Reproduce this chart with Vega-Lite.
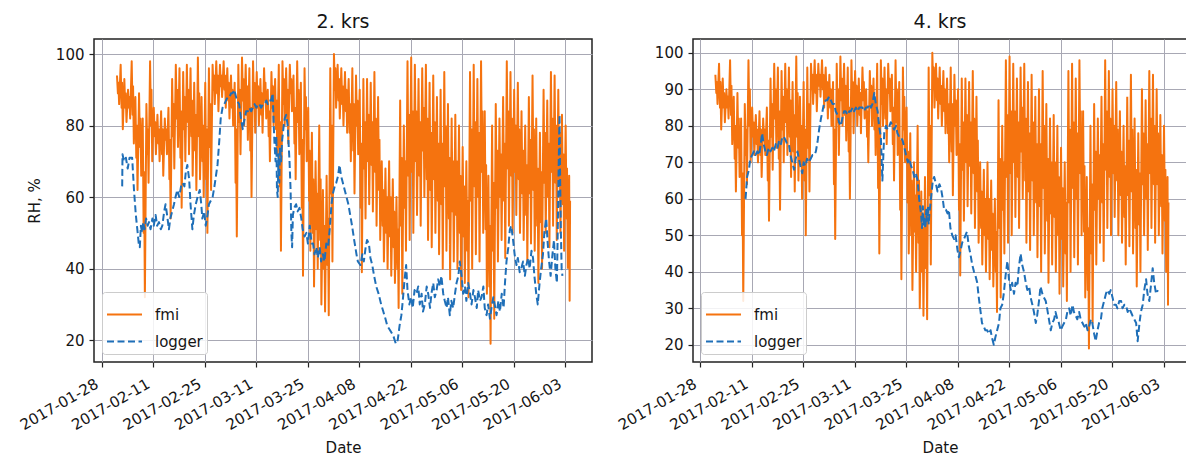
{
  "$schema": "https://vega.github.io/schema/vega-lite/v6.json",
  "background": "white",
  "padding": {"left": 16, "top": 12, "right": 0, "bottom": 0},
  "datasets": {
    "fmi": [
      {"t":"2017-02-01T02:00","v":94},{"t":"2017-02-01T08:00","v":89},{"t":"2017-02-01T11:00","v":92},{"t":"2017-02-01T16:00","v":86},
      {"t":"2017-02-02T02:00","v":97},{"t":"2017-02-02T08:00","v":85},{"t":"2017-02-02T11:00","v":92},{"t":"2017-02-02T16:00","v":79},
      {"t":"2017-02-03T02:00","v":93},{"t":"2017-02-03T08:00","v":85},{"t":"2017-02-03T11:00","v":89},{"t":"2017-02-03T16:00","v":81},
      {"t":"2017-02-04T02:00","v":90},{"t":"2017-02-04T08:00","v":85},{"t":"2017-02-04T11:00","v":88},{"t":"2017-02-04T16:00","v":82},
      {"t":"2017-02-05T02:00","v":98},{"t":"2017-02-05T08:00","v":83},{"t":"2017-02-05T11:00","v":91},{"t":"2017-02-05T16:00","v":75},
      {"t":"2017-02-06T02:00","v":88},{"t":"2017-02-06T08:00","v":71},{"t":"2017-02-06T11:00","v":80},{"t":"2017-02-06T16:00","v":62},
      {"t":"2017-02-07T02:00","v":89},{"t":"2017-02-07T08:00","v":74},{"t":"2017-02-07T11:00","v":82},{"t":"2017-02-07T16:00","v":66},
      {"t":"2017-02-08T02:00","v":82},{"t":"2017-02-08T08:00","v":50},{"t":"2017-02-08T11:00","v":67},{"t":"2017-02-08T16:00","v":32},
      {"t":"2017-02-09T02:00","v":86},{"t":"2017-02-09T08:00","v":72},{"t":"2017-02-09T11:00","v":79},{"t":"2017-02-09T16:00","v":64},
      {"t":"2017-02-10T02:00","v":98},{"t":"2017-02-10T08:00","v":80},{"t":"2017-02-10T11:00","v":90},{"t":"2017-02-10T16:00","v":70},
      {"t":"2017-02-11T02:00","v":85},{"t":"2017-02-11T08:00","v":77},{"t":"2017-02-11T11:00","v":81},{"t":"2017-02-11T16:00","v":72},
      {"t":"2017-02-12T02:00","v":83},{"t":"2017-02-12T08:00","v":75},{"t":"2017-02-12T11:00","v":79},{"t":"2017-02-12T16:00","v":70},
      {"t":"2017-02-13T02:00","v":84},{"t":"2017-02-13T08:00","v":72},{"t":"2017-02-13T11:00","v":79},{"t":"2017-02-13T16:00","v":66},
      {"t":"2017-02-14T02:00","v":82},{"t":"2017-02-14T08:00","v":76},{"t":"2017-02-14T11:00","v":79},{"t":"2017-02-14T16:00","v":72},
      {"t":"2017-02-15T02:00","v":85},{"t":"2017-02-15T08:00","v":65},{"t":"2017-02-15T11:00","v":76},{"t":"2017-02-15T16:00","v":54},
      {"t":"2017-02-16T02:00","v":93},{"t":"2017-02-16T08:00","v":77},{"t":"2017-02-16T11:00","v":86},{"t":"2017-02-16T16:00","v":68},
      {"t":"2017-02-17T02:00","v":97},{"t":"2017-02-17T08:00","v":82},{"t":"2017-02-17T11:00","v":90},{"t":"2017-02-17T16:00","v":74},
      {"t":"2017-02-18T02:00","v":96},{"t":"2017-02-18T08:00","v":71},{"t":"2017-02-18T11:00","v":84},{"t":"2017-02-18T16:00","v":57},
      {"t":"2017-02-19T02:00","v":95},{"t":"2017-02-19T08:00","v":79},{"t":"2017-02-19T11:00","v":88},{"t":"2017-02-19T16:00","v":70},
      {"t":"2017-02-20T02:00","v":97},{"t":"2017-02-20T08:00","v":81},{"t":"2017-02-20T11:00","v":90},{"t":"2017-02-20T16:00","v":72},
      {"t":"2017-02-21T02:00","v":96},{"t":"2017-02-21T08:00","v":77},{"t":"2017-02-21T11:00","v":87},{"t":"2017-02-21T16:00","v":66},
      {"t":"2017-02-22T02:00","v":92},{"t":"2017-02-22T08:00","v":73},{"t":"2017-02-22T11:00","v":83},{"t":"2017-02-22T16:00","v":62},
      {"t":"2017-02-23T02:00","v":99},{"t":"2017-02-23T08:00","v":77},{"t":"2017-02-23T11:00","v":89},{"t":"2017-02-23T16:00","v":65},
      {"t":"2017-02-24T02:00","v":88},{"t":"2017-02-24T08:00","v":70},{"t":"2017-02-24T11:00","v":80},{"t":"2017-02-24T16:00","v":60},
      {"t":"2017-02-25T02:00","v":92},{"t":"2017-02-25T08:00","v":65},{"t":"2017-02-25T11:00","v":79},{"t":"2017-02-25T16:00","v":50},
      {"t":"2017-02-26T02:00","v":96},{"t":"2017-02-26T08:00","v":74},{"t":"2017-02-26T11:00","v":86},{"t":"2017-02-26T16:00","v":62},
      {"t":"2017-02-27T02:00","v":97},{"t":"2017-02-27T08:00","v":90},{"t":"2017-02-27T11:00","v":94},{"t":"2017-02-27T16:00","v":86},
      {"t":"2017-02-28T02:00","v":98},{"t":"2017-02-28T08:00","v":89},{"t":"2017-02-28T11:00","v":94},{"t":"2017-02-28T16:00","v":84},
      {"t":"2017-03-01T02:00","v":97},{"t":"2017-03-01T08:00","v":91},{"t":"2017-03-01T11:00","v":94},{"t":"2017-03-01T16:00","v":88},
      {"t":"2017-03-02T02:00","v":98},{"t":"2017-03-02T08:00","v":90},{"t":"2017-03-02T11:00","v":94},{"t":"2017-03-02T16:00","v":85},
      {"t":"2017-03-03T02:00","v":96},{"t":"2017-03-03T08:00","v":87},{"t":"2017-03-03T11:00","v":92},{"t":"2017-03-03T16:00","v":82},
      {"t":"2017-03-04T02:00","v":94},{"t":"2017-03-04T08:00","v":85},{"t":"2017-03-04T11:00","v":90},{"t":"2017-03-04T16:00","v":80},
      {"t":"2017-03-05T02:00","v":92},{"t":"2017-03-05T08:00","v":64},{"t":"2017-03-05T11:00","v":79},{"t":"2017-03-05T16:00","v":49},
      {"t":"2017-03-06T02:00","v":97},{"t":"2017-03-06T08:00","v":81},{"t":"2017-03-06T11:00","v":90},{"t":"2017-03-06T16:00","v":72},
      {"t":"2017-03-07T02:00","v":99},{"t":"2017-03-07T08:00","v":87},{"t":"2017-03-07T11:00","v":93},{"t":"2017-03-07T16:00","v":80},
      {"t":"2017-03-08T02:00","v":97},{"t":"2017-03-08T08:00","v":83},{"t":"2017-03-08T11:00","v":91},{"t":"2017-03-08T16:00","v":76},
      {"t":"2017-03-09T02:00","v":96},{"t":"2017-03-09T08:00","v":73},{"t":"2017-03-09T11:00","v":85},{"t":"2017-03-09T16:00","v":60},
      {"t":"2017-03-10T02:00","v":98},{"t":"2017-03-10T08:00","v":85},{"t":"2017-03-10T11:00","v":92},{"t":"2017-03-10T16:00","v":78},
      {"t":"2017-03-11T02:00","v":95},{"t":"2017-03-11T08:00","v":85},{"t":"2017-03-11T11:00","v":91},{"t":"2017-03-11T16:00","v":80},
      {"t":"2017-03-12T02:00","v":93},{"t":"2017-03-12T08:00","v":83},{"t":"2017-03-12T11:00","v":89},{"t":"2017-03-12T16:00","v":78},
      {"t":"2017-03-13T02:00","v":96},{"t":"2017-03-13T08:00","v":87},{"t":"2017-03-13T11:00","v":92},{"t":"2017-03-13T16:00","v":82},
      {"t":"2017-03-14T02:00","v":90},{"t":"2017-03-14T08:00","v":77},{"t":"2017-03-14T11:00","v":84},{"t":"2017-03-14T16:00","v":70},
      {"t":"2017-03-15T02:00","v":95},{"t":"2017-03-15T08:00","v":85},{"t":"2017-03-15T11:00","v":91},{"t":"2017-03-15T16:00","v":80},
      {"t":"2017-03-16T02:00","v":93},{"t":"2017-03-16T08:00","v":79},{"t":"2017-03-16T11:00","v":87},{"t":"2017-03-16T16:00","v":72},
      {"t":"2017-03-17T02:00","v":97},{"t":"2017-03-17T08:00","v":63},{"t":"2017-03-17T11:00","v":81},{"t":"2017-03-17T16:00","v":45},
      {"t":"2017-03-18T02:00","v":98},{"t":"2017-03-18T08:00","v":86},{"t":"2017-03-18T11:00","v":93},{"t":"2017-03-18T16:00","v":80},
      {"t":"2017-03-19T02:00","v":96},{"t":"2017-03-19T08:00","v":82},{"t":"2017-03-19T11:00","v":90},{"t":"2017-03-19T16:00","v":75},
      {"t":"2017-03-20T02:00","v":97},{"t":"2017-03-20T08:00","v":89},{"t":"2017-03-20T11:00","v":93},{"t":"2017-03-20T16:00","v":84},
      {"t":"2017-03-21T02:00","v":94},{"t":"2017-03-21T08:00","v":75},{"t":"2017-03-21T11:00","v":85},{"t":"2017-03-21T16:00","v":65},
      {"t":"2017-03-22T02:00","v":98},{"t":"2017-03-22T08:00","v":81},{"t":"2017-03-22T11:00","v":90},{"t":"2017-03-22T16:00","v":72},
      {"t":"2017-03-23T02:00","v":92},{"t":"2017-03-23T08:00","v":57},{"t":"2017-03-23T11:00","v":76},{"t":"2017-03-23T16:00","v":38},
      {"t":"2017-03-24T02:00","v":96},{"t":"2017-03-24T08:00","v":79},{"t":"2017-03-24T11:00","v":88},{"t":"2017-03-24T16:00","v":70},
      {"t":"2017-03-25T02:00","v":85},{"t":"2017-03-25T08:00","v":59},{"t":"2017-03-25T11:00","v":73},{"t":"2017-03-25T16:00","v":45},
      {"t":"2017-03-26T02:00","v":78},{"t":"2017-03-26T08:00","v":50},{"t":"2017-03-26T11:00","v":65},{"t":"2017-03-26T16:00","v":35},
      {"t":"2017-03-27T02:00","v":70},{"t":"2017-03-27T08:00","v":51},{"t":"2017-03-27T11:00","v":61},{"t":"2017-03-27T16:00","v":40},
      {"t":"2017-03-28T02:00","v":80},{"t":"2017-03-28T08:00","v":48},{"t":"2017-03-28T11:00","v":65},{"t":"2017-03-28T16:00","v":30},
      {"t":"2017-03-29T02:00","v":62},{"t":"2017-03-29T08:00","v":40},{"t":"2017-03-29T11:00","v":52},{"t":"2017-03-29T16:00","v":28},
      {"t":"2017-03-30T02:00","v":66},{"t":"2017-03-30T08:00","v":41},{"t":"2017-03-30T11:00","v":54},{"t":"2017-03-30T16:00","v":27},
      {"t":"2017-03-31T02:00","v":96},{"t":"2017-03-31T08:00","v":61},{"t":"2017-03-31T11:00","v":80},{"t":"2017-03-31T16:00","v":42},
      {"t":"2017-04-01T02:00","v":100},{"t":"2017-04-01T08:00","v":90},{"t":"2017-04-01T11:00","v":96},{"t":"2017-04-01T16:00","v":85},
      {"t":"2017-04-02T02:00","v":97},{"t":"2017-04-02T08:00","v":87},{"t":"2017-04-02T11:00","v":93},{"t":"2017-04-02T16:00","v":82},
      {"t":"2017-04-03T02:00","v":96},{"t":"2017-04-03T08:00","v":86},{"t":"2017-04-03T11:00","v":91},{"t":"2017-04-03T16:00","v":80},
      {"t":"2017-04-04T02:00","v":95},{"t":"2017-04-04T08:00","v":84},{"t":"2017-04-04T11:00","v":90},{"t":"2017-04-04T16:00","v":78},
      {"t":"2017-04-05T02:00","v":93},{"t":"2017-04-05T08:00","v":78},{"t":"2017-04-05T11:00","v":86},{"t":"2017-04-05T16:00","v":70},
      {"t":"2017-04-06T02:00","v":96},{"t":"2017-04-06T08:00","v":73},{"t":"2017-04-06T11:00","v":86},{"t":"2017-04-06T16:00","v":61},
      {"t":"2017-04-07T02:00","v":94},{"t":"2017-04-07T08:00","v":80},{"t":"2017-04-07T11:00","v":87},{"t":"2017-04-07T16:00","v":72},
      {"t":"2017-04-08T02:00","v":90},{"t":"2017-04-08T08:00","v":57},{"t":"2017-04-08T11:00","v":75},{"t":"2017-04-08T16:00","v":39},
      {"t":"2017-04-09T02:00","v":93},{"t":"2017-04-09T08:00","v":68},{"t":"2017-04-09T11:00","v":81},{"t":"2017-04-09T16:00","v":54},
      {"t":"2017-04-10T02:00","v":93},{"t":"2017-04-10T08:00","v":70},{"t":"2017-04-10T11:00","v":83},{"t":"2017-04-10T16:00","v":58},
      {"t":"2017-04-11T02:00","v":92},{"t":"2017-04-11T08:00","v":69},{"t":"2017-04-11T11:00","v":81},{"t":"2017-04-11T16:00","v":56},
      {"t":"2017-04-12T02:00","v":95},{"t":"2017-04-12T08:00","v":67},{"t":"2017-04-12T11:00","v":82},{"t":"2017-04-12T16:00","v":52},
      {"t":"2017-04-13T02:00","v":88},{"t":"2017-04-13T08:00","v":62},{"t":"2017-04-13T11:00","v":76},{"t":"2017-04-13T16:00","v":48},
      {"t":"2017-04-14T02:00","v":70},{"t":"2017-04-14T08:00","v":52},{"t":"2017-04-14T11:00","v":62},{"t":"2017-04-14T16:00","v":42},
      {"t":"2017-04-15T02:00","v":68},{"t":"2017-04-15T08:00","v":50},{"t":"2017-04-15T11:00","v":60},{"t":"2017-04-15T16:00","v":40},
      {"t":"2017-04-16T02:00","v":70},{"t":"2017-04-16T08:00","v":49},{"t":"2017-04-16T11:00","v":60},{"t":"2017-04-16T16:00","v":38},
      {"t":"2017-04-17T02:00","v":65},{"t":"2017-04-17T08:00","v":46},{"t":"2017-04-17T11:00","v":56},{"t":"2017-04-17T16:00","v":36},
      {"t":"2017-04-18T02:00","v":60},{"t":"2017-04-18T08:00","v":40},{"t":"2017-04-18T11:00","v":51},{"t":"2017-04-18T16:00","v":29},
      {"t":"2017-04-19T02:00","v":87},{"t":"2017-04-19T08:00","v":52},{"t":"2017-04-19T11:00","v":71},{"t":"2017-04-19T16:00","v":33},
      {"t":"2017-04-20T02:00","v":80},{"t":"2017-04-20T08:00","v":57},{"t":"2017-04-20T11:00","v":70},{"t":"2017-04-20T16:00","v":45},
      {"t":"2017-04-21T02:00","v":98},{"t":"2017-04-21T08:00","v":66},{"t":"2017-04-21T11:00","v":83},{"t":"2017-04-21T16:00","v":48},
      {"t":"2017-04-22T02:00","v":99},{"t":"2017-04-22T08:00","v":67},{"t":"2017-04-22T11:00","v":84},{"t":"2017-04-22T16:00","v":50},
      {"t":"2017-04-23T02:00","v":97},{"t":"2017-04-23T08:00","v":70},{"t":"2017-04-23T11:00","v":84},{"t":"2017-04-23T16:00","v":55},
      {"t":"2017-04-24T02:00","v":93},{"t":"2017-04-24T08:00","v":66},{"t":"2017-04-24T11:00","v":81},{"t":"2017-04-24T16:00","v":52},
      {"t":"2017-04-25T02:00","v":96},{"t":"2017-04-25T08:00","v":73},{"t":"2017-04-25T11:00","v":85},{"t":"2017-04-25T16:00","v":60},
      {"t":"2017-04-26T02:00","v":97},{"t":"2017-04-26T08:00","v":65},{"t":"2017-04-26T11:00","v":82},{"t":"2017-04-26T16:00","v":48},
      {"t":"2017-04-27T02:00","v":92},{"t":"2017-04-27T08:00","v":62},{"t":"2017-04-27T11:00","v":78},{"t":"2017-04-27T16:00","v":46},
      {"t":"2017-04-28T02:00","v":94},{"t":"2017-04-28T08:00","v":65},{"t":"2017-04-28T11:00","v":81},{"t":"2017-04-28T16:00","v":50},
      {"t":"2017-04-29T02:00","v":88},{"t":"2017-04-29T08:00","v":59},{"t":"2017-04-29T11:00","v":75},{"t":"2017-04-29T16:00","v":44},
      {"t":"2017-04-30T02:00","v":90},{"t":"2017-04-30T08:00","v":58},{"t":"2017-04-30T11:00","v":75},{"t":"2017-04-30T16:00","v":40},
      {"t":"2017-05-01T02:00","v":95},{"t":"2017-05-01T08:00","v":63},{"t":"2017-05-01T11:00","v":80},{"t":"2017-05-01T16:00","v":45},
      {"t":"2017-05-02T02:00","v":86},{"t":"2017-05-02T08:00","v":54},{"t":"2017-05-02T11:00","v":71},{"t":"2017-05-02T16:00","v":37},
      {"t":"2017-05-03T02:00","v":82},{"t":"2017-05-03T08:00","v":56},{"t":"2017-05-03T11:00","v":70},{"t":"2017-05-03T16:00","v":42},
      {"t":"2017-05-04T02:00","v":83},{"t":"2017-05-04T08:00","v":55},{"t":"2017-05-04T11:00","v":70},{"t":"2017-05-04T16:00","v":40},
      {"t":"2017-05-05T02:00","v":80},{"t":"2017-05-05T08:00","v":50},{"t":"2017-05-05T11:00","v":66},{"t":"2017-05-05T16:00","v":34},
      {"t":"2017-05-06T02:00","v":74},{"t":"2017-05-06T08:00","v":49},{"t":"2017-05-06T11:00","v":63},{"t":"2017-05-06T16:00","v":36},
      {"t":"2017-05-07T02:00","v":70},{"t":"2017-05-07T08:00","v":45},{"t":"2017-05-07T11:00","v":59},{"t":"2017-05-07T16:00","v":32},
      {"t":"2017-05-08T02:00","v":95},{"t":"2017-05-08T08:00","v":59},{"t":"2017-05-08T11:00","v":79},{"t":"2017-05-08T16:00","v":40},
      {"t":"2017-05-09T02:00","v":97},{"t":"2017-05-09T08:00","v":63},{"t":"2017-05-09T11:00","v":81},{"t":"2017-05-09T16:00","v":44},
      {"t":"2017-05-10T02:00","v":93},{"t":"2017-05-10T08:00","v":60},{"t":"2017-05-10T11:00","v":78},{"t":"2017-05-10T16:00","v":42},
      {"t":"2017-05-11T02:00","v":98},{"t":"2017-05-11T08:00","v":67},{"t":"2017-05-11T11:00","v":84},{"t":"2017-05-11T16:00","v":50},
      {"t":"2017-05-12T02:00","v":84},{"t":"2017-05-12T08:00","v":51},{"t":"2017-05-12T11:00","v":69},{"t":"2017-05-12T16:00","v":33},
      {"t":"2017-05-13T02:00","v":66},{"t":"2017-05-13T08:00","v":35},{"t":"2017-05-13T11:00","v":52},{"t":"2017-05-13T16:00","v":19},
      {"t":"2017-05-14T02:00","v":80},{"t":"2017-05-14T08:00","v":45},{"t":"2017-05-14T11:00","v":64},{"t":"2017-05-14T16:00","v":26},
      {"t":"2017-05-15T02:00","v":86},{"t":"2017-05-15T08:00","v":57},{"t":"2017-05-15T11:00","v":73},{"t":"2017-05-15T16:00","v":42},
      {"t":"2017-05-16T02:00","v":82},{"t":"2017-05-16T08:00","v":60},{"t":"2017-05-16T11:00","v":72},{"t":"2017-05-16T16:00","v":48},
      {"t":"2017-05-17T02:00","v":88},{"t":"2017-05-17T08:00","v":59},{"t":"2017-05-17T11:00","v":75},{"t":"2017-05-17T16:00","v":43},
      {"t":"2017-05-18T02:00","v":98},{"t":"2017-05-18T08:00","v":68},{"t":"2017-05-18T11:00","v":84},{"t":"2017-05-18T16:00","v":52},
      {"t":"2017-05-19T02:00","v":95},{"t":"2017-05-19T08:00","v":66},{"t":"2017-05-19T11:00","v":82},{"t":"2017-05-19T16:00","v":50},
      {"t":"2017-05-20T02:00","v":90},{"t":"2017-05-20T08:00","v":67},{"t":"2017-05-20T11:00","v":80},{"t":"2017-05-20T16:00","v":55},
      {"t":"2017-05-21T02:00","v":92},{"t":"2017-05-21T08:00","v":65},{"t":"2017-05-21T11:00","v":79},{"t":"2017-05-21T16:00","v":50},
      {"t":"2017-05-22T02:00","v":84},{"t":"2017-05-22T08:00","v":61},{"t":"2017-05-22T11:00","v":73},{"t":"2017-05-22T16:00","v":48},
      {"t":"2017-05-23T02:00","v":80},{"t":"2017-05-23T08:00","v":55},{"t":"2017-05-23T11:00","v":69},{"t":"2017-05-23T16:00","v":42},
      {"t":"2017-05-24T02:00","v":88},{"t":"2017-05-24T08:00","v":61},{"t":"2017-05-24T11:00","v":76},{"t":"2017-05-24T16:00","v":47},
      {"t":"2017-05-25T02:00","v":94},{"t":"2017-05-25T08:00","v":62},{"t":"2017-05-25T11:00","v":79},{"t":"2017-05-25T16:00","v":45},
      {"t":"2017-05-26T02:00","v":82},{"t":"2017-05-26T08:00","v":52},{"t":"2017-05-26T11:00","v":68},{"t":"2017-05-26T16:00","v":36},
      {"t":"2017-05-27T02:00","v":78},{"t":"2017-05-27T08:00","v":53},{"t":"2017-05-27T11:00","v":67},{"t":"2017-05-27T16:00","v":40},
      {"t":"2017-05-28T02:00","v":90},{"t":"2017-05-28T08:00","v":64},{"t":"2017-05-28T11:00","v":78},{"t":"2017-05-28T16:00","v":50},
      {"t":"2017-05-29T02:00","v":87},{"t":"2017-05-29T08:00","v":60},{"t":"2017-05-29T11:00","v":75},{"t":"2017-05-29T16:00","v":46},
      {"t":"2017-05-30T02:00","v":95},{"t":"2017-05-30T08:00","v":67},{"t":"2017-05-30T11:00","v":82},{"t":"2017-05-30T16:00","v":52},
      {"t":"2017-05-31T02:00","v":94},{"t":"2017-05-31T08:00","v":64},{"t":"2017-05-31T11:00","v":80},{"t":"2017-05-31T16:00","v":48},
      {"t":"2017-06-01T02:00","v":90},{"t":"2017-06-01T08:00","v":64},{"t":"2017-06-01T11:00","v":78},{"t":"2017-06-01T16:00","v":50},
      {"t":"2017-06-02T02:00","v":83},{"t":"2017-06-02T08:00","v":58},{"t":"2017-06-02T11:00","v":72},{"t":"2017-06-02T16:00","v":45},
      {"t":"2017-06-03T02:00","v":80},{"t":"2017-06-03T08:00","v":54},{"t":"2017-06-03T11:00","v":68},{"t":"2017-06-03T16:00","v":40},
      {"t":"2017-06-04T01:00","v":66},{"t":"2017-06-04T04:00","v":31},{"t":"2017-06-04T07:00","v":59}
    ],
    "log2": [
      {"t":"2017-02-02T12:00","v":63},{"t":"2017-02-02T14:00","v":72},{"t":"2017-02-03T00:00","v":70},{"t":"2017-02-03T12:00","v":71},
      {"t":"2017-02-04T00:00","v":68},{"t":"2017-02-04T12:00","v":71},{"t":"2017-02-05T05:00","v":71},{"t":"2017-02-05T17:00","v":62},
      {"t":"2017-02-06T05:00","v":55},{"t":"2017-02-06T17:00","v":50},{"t":"2017-02-07T00:00","v":47},{"t":"2017-02-07T07:00","v":46},
      {"t":"2017-02-07T14:00","v":52},{"t":"2017-02-07T22:00","v":50},{"t":"2017-02-08T05:00","v":53},{"t":"2017-02-08T14:00","v":51},
      {"t":"2017-02-09T00:00","v":54},{"t":"2017-02-09T10:00","v":52},{"t":"2017-02-09T19:00","v":53},{"t":"2017-02-10T05:00","v":51},
      {"t":"2017-02-10T17:00","v":54},{"t":"2017-02-11T02:00","v":52},{"t":"2017-02-11T14:00","v":55},{"t":"2017-02-12T00:00","v":52},
      {"t":"2017-02-12T12:00","v":53},{"t":"2017-02-13T00:00","v":51},{"t":"2017-02-13T10:00","v":52},{"t":"2017-02-13T22:00","v":56},
      {"t":"2017-02-14T07:00","v":58},{"t":"2017-02-14T17:00","v":55},{"t":"2017-02-15T05:00","v":51},{"t":"2017-02-15T14:00","v":54},
      {"t":"2017-02-16T02:00","v":56},{"t":"2017-02-16T14:00","v":58},{"t":"2017-02-17T00:00","v":60},{"t":"2017-02-17T12:00","v":62},
      {"t":"2017-02-18T00:00","v":60},{"t":"2017-02-18T12:00","v":63},{"t":"2017-02-18T22:00","v":64},{"t":"2017-02-19T10:00","v":63},
      {"t":"2017-02-19T19:00","v":67},{"t":"2017-02-20T05:00","v":69},{"t":"2017-02-20T17:00","v":65},{"t":"2017-02-21T02:00","v":58},
      {"t":"2017-02-21T14:00","v":51},{"t":"2017-02-22T00:00","v":55},{"t":"2017-02-22T12:00","v":58},{"t":"2017-02-23T00:00","v":60},
      {"t":"2017-02-23T14:00","v":62},{"t":"2017-02-24T00:00","v":58},{"t":"2017-02-24T07:00","v":54},{"t":"2017-02-24T19:00","v":56},
      {"t":"2017-02-25T05:00","v":52},{"t":"2017-02-25T17:00","v":55},{"t":"2017-02-26T02:00","v":58},{"t":"2017-02-26T14:00","v":59},
      {"t":"2017-02-27T02:00","v":60},{"t":"2017-02-27T14:00","v":63},{"t":"2017-02-28T00:00","v":66},{"t":"2017-02-28T10:00","v":69},
      {"t":"2017-02-28T22:00","v":76},{"t":"2017-03-01T07:00","v":82},{"t":"2017-03-01T19:00","v":85},{"t":"2017-03-02T07:00","v":86},
      {"t":"2017-03-02T17:00","v":87},{"t":"2017-03-03T05:00","v":88},{"t":"2017-03-03T17:00","v":88},{"t":"2017-03-04T02:00","v":89},
      {"t":"2017-03-04T12:00","v":89},{"t":"2017-03-05T00:00","v":90},{"t":"2017-03-05T05:00","v":89},{"t":"2017-03-05T17:00","v":87},
      {"t":"2017-03-06T07:00","v":86},{"t":"2017-03-06T19:00","v":82},{"t":"2017-03-07T07:00","v":79},{"t":"2017-03-07T19:00","v":82},
      {"t":"2017-03-08T05:00","v":84},{"t":"2017-03-08T17:00","v":84},{"t":"2017-03-09T02:00","v":85},{"t":"2017-03-09T14:00","v":84},
      {"t":"2017-03-10T00:00","v":85},{"t":"2017-03-10T12:00","v":86},{"t":"2017-03-11T00:00","v":85},{"t":"2017-03-11T10:00","v":86},
      {"t":"2017-03-11T19:00","v":86},{"t":"2017-03-12T07:00","v":85},{"t":"2017-03-12T19:00","v":86},{"t":"2017-03-13T05:00","v":86},
      {"t":"2017-03-13T17:00","v":87},{"t":"2017-03-14T02:00","v":86},{"t":"2017-03-14T12:00","v":87},{"t":"2017-03-15T00:00","v":87},
      {"t":"2017-03-15T10:00","v":89},{"t":"2017-03-15T17:00","v":80},{"t":"2017-03-15T22:00","v":75},{"t":"2017-03-16T05:00","v":70},
      {"t":"2017-03-16T10:00","v":77},{"t":"2017-03-16T14:00","v":62},{"t":"2017-03-16T19:00","v":60},{"t":"2017-03-17T00:00","v":72},
      {"t":"2017-03-17T05:00","v":64},{"t":"2017-03-17T10:00","v":74},{"t":"2017-03-17T17:00","v":70},{"t":"2017-03-18T00:00","v":76},
      {"t":"2017-03-18T10:00","v":80},{"t":"2017-03-18T17:00","v":82},{"t":"2017-03-19T02:00","v":83},{"t":"2017-03-19T12:00","v":80},
      {"t":"2017-03-19T19:00","v":74},{"t":"2017-03-20T00:00","v":70},{"t":"2017-03-20T07:00","v":62},{"t":"2017-03-20T12:00","v":50},
      {"t":"2017-03-20T17:00","v":46},{"t":"2017-03-20T22:00","v":55},{"t":"2017-03-21T07:00","v":57},{"t":"2017-03-21T19:00","v":58},
      {"t":"2017-03-22T05:00","v":56},{"t":"2017-03-22T17:00","v":57},{"t":"2017-03-23T05:00","v":54},{"t":"2017-03-23T14:00","v":51},
      {"t":"2017-03-24T02:00","v":49},{"t":"2017-03-24T14:00","v":50},{"t":"2017-03-25T00:00","v":47},{"t":"2017-03-25T12:00","v":52},
      {"t":"2017-03-26T00:00","v":47},{"t":"2017-03-26T10:00","v":47},{"t":"2017-03-26T19:00","v":44},{"t":"2017-03-27T07:00","v":46},
      {"t":"2017-03-27T17:00","v":43},{"t":"2017-03-28T05:00","v":46},{"t":"2017-03-28T14:00","v":42},{"t":"2017-03-29T02:00","v":44},
      {"t":"2017-03-29T12:00","v":42},{"t":"2017-03-30T00:00","v":47},{"t":"2017-03-30T12:00","v":46},{"t":"2017-03-31T00:00","v":52},
      {"t":"2017-03-31T10:00","v":58},{"t":"2017-03-31T19:00","v":61},{"t":"2017-04-01T07:00","v":63},{"t":"2017-04-01T17:00","v":64},
      {"t":"2017-04-02T05:00","v":66},{"t":"2017-04-02T14:00","v":69},{"t":"2017-04-03T00:00","v":66},{"t":"2017-04-03T12:00","v":64},
      {"t":"2017-04-04T00:00","v":62},{"t":"2017-04-04T12:00","v":60},{"t":"2017-04-05T00:00","v":58},{"t":"2017-04-05T12:00","v":55},
      {"t":"2017-04-06T00:00","v":52},{"t":"2017-04-06T14:00","v":48},{"t":"2017-04-07T05:00","v":44},{"t":"2017-04-07T14:00","v":42},
      {"t":"2017-04-08T07:00","v":41},{"t":"2017-04-08T19:00","v":44},{"t":"2017-04-09T05:00","v":42},{"t":"2017-04-09T17:00","v":46},
      {"t":"2017-04-10T02:00","v":48},{"t":"2017-04-10T14:00","v":47},{"t":"2017-04-11T00:00","v":43},{"t":"2017-04-11T12:00","v":41},
      {"t":"2017-04-12T00:00","v":38},{"t":"2017-04-12T14:00","v":35},{"t":"2017-04-13T05:00","v":33},{"t":"2017-04-13T22:00","v":30},
      {"t":"2017-04-14T12:00","v":28},{"t":"2017-04-15T02:00","v":26},{"t":"2017-04-15T14:00","v":24},{"t":"2017-04-16T05:00","v":23},
      {"t":"2017-04-16T19:00","v":22},{"t":"2017-04-17T07:00","v":21},{"t":"2017-04-17T22:00","v":19},{"t":"2017-04-18T10:00","v":20},
      {"t":"2017-04-18T22:00","v":24},{"t":"2017-04-19T10:00","v":27},{"t":"2017-04-19T19:00","v":31},{"t":"2017-04-20T07:00","v":37},
      {"t":"2017-04-20T17:00","v":41},{"t":"2017-04-21T02:00","v":34},{"t":"2017-04-21T14:00","v":30},{"t":"2017-04-22T02:00","v":32},
      {"t":"2017-04-22T12:00","v":29},{"t":"2017-04-23T00:00","v":34},{"t":"2017-04-23T12:00","v":33},{"t":"2017-04-24T00:00","v":35},
      {"t":"2017-04-24T10:00","v":30},{"t":"2017-04-24T22:00","v":33},{"t":"2017-04-25T07:00","v":28},{"t":"2017-04-25T19:00","v":30},
      {"t":"2017-04-26T07:00","v":35},{"t":"2017-04-26T17:00","v":33},{"t":"2017-04-27T05:00","v":29},{"t":"2017-04-27T14:00","v":33},
      {"t":"2017-04-28T02:00","v":36},{"t":"2017-04-28T12:00","v":32},{"t":"2017-04-29T00:00","v":34},{"t":"2017-04-29T10:00","v":37},
      {"t":"2017-04-29T22:00","v":35},{"t":"2017-04-30T07:00","v":38},{"t":"2017-04-30T19:00","v":33},{"t":"2017-05-01T05:00","v":31},
      {"t":"2017-05-01T17:00","v":29},{"t":"2017-05-02T02:00","v":32},{"t":"2017-05-02T14:00","v":27},{"t":"2017-05-03T00:00","v":31},
      {"t":"2017-05-03T12:00","v":29},{"t":"2017-05-04T00:00","v":33},{"t":"2017-05-04T10:00","v":36},{"t":"2017-05-04T22:00","v":38},
      {"t":"2017-05-05T07:00","v":42},{"t":"2017-05-05T19:00","v":38},{"t":"2017-05-06T05:00","v":33},{"t":"2017-05-06T17:00","v":35},
      {"t":"2017-05-07T02:00","v":31},{"t":"2017-05-07T14:00","v":36},{"t":"2017-05-08T02:00","v":33},{"t":"2017-05-08T12:00","v":30},
      {"t":"2017-05-09T00:00","v":34},{"t":"2017-05-09T10:00","v":32},{"t":"2017-05-09T22:00","v":29},{"t":"2017-05-10T07:00","v":34},
      {"t":"2017-05-10T19:00","v":31},{"t":"2017-05-11T05:00","v":32},{"t":"2017-05-11T17:00","v":35},{"t":"2017-05-12T02:00","v":29},
      {"t":"2017-05-12T14:00","v":27},{"t":"2017-05-13T00:00","v":30},{"t":"2017-05-13T12:00","v":26},{"t":"2017-05-13T22:00","v":29},
      {"t":"2017-05-14T10:00","v":32},{"t":"2017-05-14T19:00","v":30},{"t":"2017-05-15T07:00","v":27},{"t":"2017-05-15T19:00","v":31},
      {"t":"2017-05-16T05:00","v":28},{"t":"2017-05-16T17:00","v":33},{"t":"2017-05-17T05:00","v":29},{"t":"2017-05-17T14:00","v":36},
      {"t":"2017-05-18T00:00","v":42},{"t":"2017-05-18T12:00","v":46},{"t":"2017-05-18T22:00","v":51},{"t":"2017-05-19T07:00","v":52},
      {"t":"2017-05-19T19:00","v":48},{"t":"2017-05-20T05:00","v":44},{"t":"2017-05-20T17:00","v":41},{"t":"2017-05-21T02:00","v":43},
      {"t":"2017-05-21T14:00","v":39},{"t":"2017-05-22T00:00","v":40},{"t":"2017-05-22T12:00","v":42},{"t":"2017-05-23T00:00","v":38},
      {"t":"2017-05-23T10:00","v":41},{"t":"2017-05-23T22:00","v":43},{"t":"2017-05-24T07:00","v":40},{"t":"2017-05-24T19:00","v":45},
      {"t":"2017-05-25T05:00","v":43},{"t":"2017-05-25T14:00","v":38},{"t":"2017-05-26T02:00","v":33},{"t":"2017-05-26T12:00","v":30},
      {"t":"2017-05-27T00:00","v":36},{"t":"2017-05-27T10:00","v":40},{"t":"2017-05-27T22:00","v":44},{"t":"2017-05-28T07:00","v":50},
      {"t":"2017-05-28T19:00","v":54},{"t":"2017-05-29T05:00","v":47},{"t":"2017-05-29T14:00","v":42},{"t":"2017-05-30T00:00","v":38},
      {"t":"2017-05-30T12:00","v":44},{"t":"2017-05-30T22:00","v":48},{"t":"2017-05-31T07:00","v":40},{"t":"2017-05-31T17:00","v":36},
      {"t":"2017-06-01T00:00","v":55},{"t":"2017-06-01T05:00","v":70},{"t":"2017-06-01T10:00","v":83},{"t":"2017-06-01T14:00","v":65},
      {"t":"2017-06-01T19:00","v":50},{"t":"2017-06-02T00:00","v":40},{"t":"2017-06-02T05:00","v":38}
    ],
    "log4": [
      {"t":"2017-02-09T07:00","v":60},{"t":"2017-02-09T17:00","v":66},{"t":"2017-02-10T05:00","v":68},{"t":"2017-02-10T14:00","v":71},
      {"t":"2017-02-11T02:00","v":72},{"t":"2017-02-11T14:00","v":73},{"t":"2017-02-12T00:00","v":72},{"t":"2017-02-12T12:00","v":73},
      {"t":"2017-02-13T00:00","v":72},{"t":"2017-02-13T10:00","v":75},{"t":"2017-02-13T19:00","v":78},{"t":"2017-02-14T05:00","v":75},
      {"t":"2017-02-14T17:00","v":73},{"t":"2017-02-15T02:00","v":72},{"t":"2017-02-15T14:00","v":74},{"t":"2017-02-16T02:00","v":73},
      {"t":"2017-02-16T14:00","v":74},{"t":"2017-02-17T00:00","v":73},{"t":"2017-02-17T12:00","v":75},{"t":"2017-02-18T00:00","v":74},
      {"t":"2017-02-18T10:00","v":76},{"t":"2017-02-18T22:00","v":75},{"t":"2017-02-19T07:00","v":77},{"t":"2017-02-19T17:00","v":77},
      {"t":"2017-02-20T05:00","v":76},{"t":"2017-02-20T14:00","v":75},{"t":"2017-02-21T02:00","v":75},{"t":"2017-02-21T12:00","v":72},
      {"t":"2017-02-22T00:00","v":70},{"t":"2017-02-22T12:00","v":68},{"t":"2017-02-22T22:00","v":71},{"t":"2017-02-23T10:00","v":73},
      {"t":"2017-02-23T19:00","v":71},{"t":"2017-02-24T05:00","v":69},{"t":"2017-02-24T17:00","v":67},{"t":"2017-02-25T02:00","v":70},
      {"t":"2017-02-25T14:00","v":69},{"t":"2017-02-26T00:00","v":71},{"t":"2017-02-26T12:00","v":70},{"t":"2017-02-27T00:00","v":71},
      {"t":"2017-02-27T12:00","v":72},{"t":"2017-02-28T00:00","v":72},{"t":"2017-02-28T10:00","v":73},{"t":"2017-02-28T22:00","v":76},
      {"t":"2017-03-01T07:00","v":79},{"t":"2017-03-01T19:00","v":82},{"t":"2017-03-02T05:00","v":84},{"t":"2017-03-02T14:00","v":86},
      {"t":"2017-03-03T02:00","v":87},{"t":"2017-03-03T12:00","v":87},{"t":"2017-03-04T00:00","v":88},{"t":"2017-03-04T12:00","v":87},
      {"t":"2017-03-04T22:00","v":86},{"t":"2017-03-05T10:00","v":86},{"t":"2017-03-05T19:00","v":84},{"t":"2017-03-06T07:00","v":83},
      {"t":"2017-03-06T17:00","v":81},{"t":"2017-03-07T05:00","v":80},{"t":"2017-03-07T14:00","v":82},{"t":"2017-03-08T02:00","v":84},
      {"t":"2017-03-08T12:00","v":84},{"t":"2017-03-09T00:00","v":83},{"t":"2017-03-09T12:00","v":84},{"t":"2017-03-09T22:00","v":84},
      {"t":"2017-03-10T10:00","v":85},{"t":"2017-03-10T19:00","v":84},{"t":"2017-03-11T07:00","v":85},{"t":"2017-03-11T17:00","v":84},
      {"t":"2017-03-12T05:00","v":85},{"t":"2017-03-12T14:00","v":85},{"t":"2017-03-13T02:00","v":85},{"t":"2017-03-13T12:00","v":84},
      {"t":"2017-03-14T00:00","v":85},{"t":"2017-03-14T12:00","v":85},{"t":"2017-03-14T22:00","v":86},{"t":"2017-03-15T10:00","v":85},
      {"t":"2017-03-15T19:00","v":86},{"t":"2017-03-16T07:00","v":89},{"t":"2017-03-16T17:00","v":86},{"t":"2017-03-17T05:00","v":84},
      {"t":"2017-03-17T14:00","v":80},{"t":"2017-03-18T02:00","v":77},{"t":"2017-03-18T12:00","v":65},{"t":"2017-03-19T00:00","v":78},
      {"t":"2017-03-19T12:00","v":80},{"t":"2017-03-19T22:00","v":79},{"t":"2017-03-20T10:00","v":80},{"t":"2017-03-20T19:00","v":81},
      {"t":"2017-03-21T07:00","v":80},{"t":"2017-03-21T17:00","v":79},{"t":"2017-03-22T05:00","v":80},{"t":"2017-03-22T14:00","v":78},
      {"t":"2017-03-23T02:00","v":77},{"t":"2017-03-23T12:00","v":77},{"t":"2017-03-24T00:00","v":76},{"t":"2017-03-24T12:00","v":74},
      {"t":"2017-03-24T22:00","v":72},{"t":"2017-03-25T10:00","v":70},{"t":"2017-03-25T19:00","v":71},{"t":"2017-03-26T07:00","v":69},
      {"t":"2017-03-26T17:00","v":68},{"t":"2017-03-27T05:00","v":66},{"t":"2017-03-27T14:00","v":67},{"t":"2017-03-28T02:00","v":65},
      {"t":"2017-03-28T12:00","v":60},{"t":"2017-03-29T00:00","v":56},{"t":"2017-03-29T07:00","v":52},{"t":"2017-03-29T12:00","v":58},
      {"t":"2017-03-29T17:00","v":53},{"t":"2017-03-29T22:00","v":55},{"t":"2017-03-30T05:00","v":52},{"t":"2017-03-30T10:00","v":57},
      {"t":"2017-03-30T14:00","v":54},{"t":"2017-03-30T22:00","v":58},{"t":"2017-03-31T02:00","v":53},{"t":"2017-03-31T07:00","v":56},
      {"t":"2017-03-31T17:00","v":60},{"t":"2017-04-01T05:00","v":65},{"t":"2017-04-01T14:00","v":66},{"t":"2017-04-02T02:00","v":64},
      {"t":"2017-04-02T12:00","v":62},{"t":"2017-04-03T00:00","v":64},{"t":"2017-04-03T10:00","v":63},{"t":"2017-04-03T22:00","v":60},
      {"t":"2017-04-04T07:00","v":57},{"t":"2017-04-04T19:00","v":57},{"t":"2017-04-05T05:00","v":56},{"t":"2017-04-05T14:00","v":57},
      {"t":"2017-04-06T00:00","v":52},{"t":"2017-04-06T12:00","v":50},{"t":"2017-04-07T00:00","v":49},{"t":"2017-04-07T10:00","v":50},
      {"t":"2017-04-07T22:00","v":46},{"t":"2017-04-08T07:00","v":44},{"t":"2017-04-08T19:00","v":46},{"t":"2017-04-09T05:00","v":48},
      {"t":"2017-04-09T17:00","v":49},{"t":"2017-04-10T02:00","v":50},{"t":"2017-04-10T12:00","v":51},{"t":"2017-04-11T00:00","v":47},
      {"t":"2017-04-11T10:00","v":45},{"t":"2017-04-11T22:00","v":42},{"t":"2017-04-12T10:00","v":40},{"t":"2017-04-12T19:00","v":39},
      {"t":"2017-04-13T07:00","v":37},{"t":"2017-04-13T17:00","v":33},{"t":"2017-04-14T05:00","v":29},{"t":"2017-04-14T14:00","v":26},
      {"t":"2017-04-15T02:00","v":25},{"t":"2017-04-15T12:00","v":24},{"t":"2017-04-16T00:00","v":24},{"t":"2017-04-16T10:00","v":23},
      {"t":"2017-04-16T22:00","v":24},{"t":"2017-04-17T07:00","v":22},{"t":"2017-04-17T19:00","v":20},{"t":"2017-04-18T05:00","v":22},
      {"t":"2017-04-18T17:00","v":24},{"t":"2017-04-19T05:00","v":26},{"t":"2017-04-19T14:00","v":30},{"t":"2017-04-20T02:00","v":31},
      {"t":"2017-04-20T12:00","v":34},{"t":"2017-04-21T00:00","v":39},{"t":"2017-04-21T12:00","v":43},{"t":"2017-04-21T22:00","v":38},
      {"t":"2017-04-22T10:00","v":35},{"t":"2017-04-22T19:00","v":37},{"t":"2017-04-23T07:00","v":34},{"t":"2017-04-23T17:00","v":37},
      {"t":"2017-04-24T05:00","v":36},{"t":"2017-04-24T14:00","v":41},{"t":"2017-04-25T02:00","v":45},{"t":"2017-04-25T12:00","v":42},
      {"t":"2017-04-26T00:00","v":40},{"t":"2017-04-26T12:00","v":37},{"t":"2017-04-26T22:00","v":35},{"t":"2017-04-27T10:00","v":36},
      {"t":"2017-04-27T19:00","v":33},{"t":"2017-04-28T07:00","v":31},{"t":"2017-04-28T17:00","v":29},{"t":"2017-04-29T05:00","v":26},
      {"t":"2017-04-29T14:00","v":28},{"t":"2017-04-30T02:00","v":32},{"t":"2017-04-30T12:00","v":36},{"t":"2017-05-01T00:00","v":34},
      {"t":"2017-05-01T10:00","v":33},{"t":"2017-05-01T22:00","v":32},{"t":"2017-05-02T07:00","v":30},{"t":"2017-05-02T19:00","v":27},
      {"t":"2017-05-03T07:00","v":24},{"t":"2017-05-03T17:00","v":26},{"t":"2017-05-04T05:00","v":27},{"t":"2017-05-04T14:00","v":29},
      {"t":"2017-05-05T02:00","v":27},{"t":"2017-05-05T12:00","v":26},{"t":"2017-05-06T00:00","v":24},{"t":"2017-05-06T10:00","v":25},
      {"t":"2017-05-06T22:00","v":26},{"t":"2017-05-07T10:00","v":27},{"t":"2017-05-07T19:00","v":29},{"t":"2017-05-08T07:00","v":30},
      {"t":"2017-05-08T17:00","v":28},{"t":"2017-05-09T05:00","v":31},{"t":"2017-05-09T14:00","v":29},{"t":"2017-05-10T02:00","v":28},
      {"t":"2017-05-10T12:00","v":27},{"t":"2017-05-11T00:00","v":29},{"t":"2017-05-11T10:00","v":27},{"t":"2017-05-11T22:00","v":26},
      {"t":"2017-05-12T10:00","v":25},{"t":"2017-05-12T19:00","v":26},{"t":"2017-05-13T07:00","v":24},{"t":"2017-05-13T17:00","v":25},
      {"t":"2017-05-14T05:00","v":27},{"t":"2017-05-14T14:00","v":26},{"t":"2017-05-15T02:00","v":23},{"t":"2017-05-15T12:00","v":21},
      {"t":"2017-05-16T00:00","v":24},{"t":"2017-05-16T10:00","v":26},{"t":"2017-05-16T22:00","v":27},{"t":"2017-05-17T07:00","v":30},
      {"t":"2017-05-17T19:00","v":32},{"t":"2017-05-18T07:00","v":34},{"t":"2017-05-18T17:00","v":35},{"t":"2017-05-19T05:00","v":34},
      {"t":"2017-05-19T14:00","v":35},{"t":"2017-05-20T02:00","v":33},{"t":"2017-05-20T12:00","v":31},{"t":"2017-05-21T00:00","v":31},
      {"t":"2017-05-21T10:00","v":30},{"t":"2017-05-21T22:00","v":32},{"t":"2017-05-22T10:00","v":32},{"t":"2017-05-22T19:00","v":30},
      {"t":"2017-05-23T07:00","v":31},{"t":"2017-05-23T17:00","v":31},{"t":"2017-05-24T05:00","v":29},{"t":"2017-05-24T14:00","v":30},
      {"t":"2017-05-25T02:00","v":29},{"t":"2017-05-25T12:00","v":28},{"t":"2017-05-26T00:00","v":27},{"t":"2017-05-26T12:00","v":26},
      {"t":"2017-05-26T22:00","v":21},{"t":"2017-05-27T10:00","v":26},{"t":"2017-05-27T19:00","v":29},{"t":"2017-05-28T07:00","v":31},
      {"t":"2017-05-28T17:00","v":35},{"t":"2017-05-29T05:00","v":38},{"t":"2017-05-29T14:00","v":34},{"t":"2017-05-30T02:00","v":32},
      {"t":"2017-05-30T12:00","v":36},{"t":"2017-05-31T00:00","v":41},{"t":"2017-05-31T10:00","v":37},{"t":"2017-05-31T22:00","v":34},
      {"t":"2017-06-01T10:00","v":35}
    ]
  },
  "hconcat": [
    {
      "width": 498,
      "height": 323,
      "title": "2. krs",
      "layer": [
        {
          "data": {"name": "fmi"},
          "mark": {"type": "line", "strokeWidth": 2, "strokeJoin": "round"},
          "encoding": {
            "x": {
              "field": "t", "type": "temporal",
              "scale": {"domain": [{"year": 2017, "month": 1, "date": 25, "hours": 20}, {"year": 2017, "month": 6, "date": 10, "hours": 6}]},
              "axis": {
                "values": [
                  {"year": 2017, "month": 1, "date": 28}, {"year": 2017, "month": 2, "date": 11}, {"year": 2017, "month": 2, "date": 25},
                  {"year": 2017, "month": 3, "date": 11}, {"year": 2017, "month": 3, "date": 25}, {"year": 2017, "month": 4, "date": 8},
                  {"year": 2017, "month": 4, "date": 22}, {"year": 2017, "month": 5, "date": 6}, {"year": 2017, "month": 5, "date": 20},
                  {"year": 2017, "month": 6, "date": 3}
                ],
                "format": "%Y-%m-%d", "labelAngle": -30, "labelAlign": "right", "labelBaseline": "top",
                "labelOffset": -9, "labelPadding": 9, "labelOverlap": false, "labelFlush": false,
                "title": "Date", "titlePadding": 8
              }
            },
            "y": {
              "field": "v", "type": "quantitative",
              "scale": {"domain": [13.9, 104.2], "nice": false, "zero": false},
              "axis": {"values": [20, 40, 60, 80, 100], "title": "RH, %", "titlePadding": 13, "labelPadding": 5}
            },
            "color": {"datum": "fmi", "scale": {"domain": ["fmi", "logger"], "range": ["#f5730f", "#1f6fb8"]}, "legend": {"title": null}},
            "strokeDash": {"datum": "fmi", "scale": {"domain": ["fmi", "logger"], "range": [[1, 0], [7, 3.5]]}, "legend": {"title": null}}
          }
        },
        {
          "data": {"name": "log2"},
          "mark": {"type": "line", "strokeWidth": 2, "strokeJoin": "round"},
          "encoding": {
            "x": {"field": "t", "type": "temporal"},
            "y": {"field": "v", "type": "quantitative"},
            "color": {"datum": "logger", "legend": {"title": null}},
            "strokeDash": {"datum": "logger", "legend": {"title": null}}
          }
        }
      ]
    },
    {
      "width": 494,
      "height": 323,
      "title": "4. krs",
      "layer": [
        {
          "data": {"name": "fmi"},
          "mark": {"type": "line", "strokeWidth": 2, "strokeJoin": "round"},
          "encoding": {
            "x": {
              "field": "t", "type": "temporal",
              "scale": {"domain": [{"year": 2017, "month": 1, "date": 26, "hours": 0}, {"year": 2017, "month": 6, "date": 9, "hours": 8}]},
              "axis": {
                "values": [
                  {"year": 2017, "month": 1, "date": 28}, {"year": 2017, "month": 2, "date": 11}, {"year": 2017, "month": 2, "date": 25},
                  {"year": 2017, "month": 3, "date": 11}, {"year": 2017, "month": 3, "date": 25}, {"year": 2017, "month": 4, "date": 8},
                  {"year": 2017, "month": 4, "date": 22}, {"year": 2017, "month": 5, "date": 6}, {"year": 2017, "month": 5, "date": 20},
                  {"year": 2017, "month": 6, "date": 3}
                ],
                "format": "%Y-%m-%d", "labelAngle": -30, "labelAlign": "right", "labelBaseline": "top",
                "labelOffset": -9, "labelPadding": 9, "labelOverlap": false, "labelFlush": false,
                "title": "Date", "titlePadding": 8
              }
            },
            "y": {
              "field": "v", "type": "quantitative",
              "scale": {"domain": [15.3, 103.8], "nice": false, "zero": false},
              "axis": {"values": [20, 30, 40, 50, 60, 70, 80, 90, 100], "title": null, "labelPadding": 5}
            },
            "color": {"datum": "fmi", "scale": {"domain": ["fmi", "logger"], "range": ["#f5730f", "#1f6fb8"]}, "legend": {"title": null}},
            "strokeDash": {"datum": "fmi", "scale": {"domain": ["fmi", "logger"], "range": [[1, 0], [7, 3.5]]}, "legend": {"title": null}}
          }
        },
        {
          "data": {"name": "log4"},
          "mark": {"type": "line", "strokeWidth": 2, "strokeJoin": "round"},
          "encoding": {
            "x": {"field": "t", "type": "temporal"},
            "y": {"field": "v", "type": "quantitative"},
            "color": {"datum": "logger", "legend": {"title": null}},
            "strokeDash": {"datum": "logger", "legend": {"title": null}}
          }
        }
      ]
    }
  ],
  "spacing": 101,
  "bounds": "flush",
  "resolve": {
    "scale": {"x": "independent", "y": "independent", "color": "independent", "strokeDash": "independent"},
    "legend": {"color": "independent", "strokeDash": "independent"}
  },
  "config": {
    "font": "DejaVu Sans",
    "view": {"stroke": "#222222", "strokeWidth": 1.5},
    "axis": {
      "domain": false, "grid": true, "gridColor": "#a8a8b4", "gridWidth": 1,
      "tickColor": "#222222", "tickSize": 5, "tickWidth": 1.2,
      "labelFont": "DejaVu Sans", "labelFontSize": 15, "labelColor": "#151515",
      "titleFont": "DejaVu Sans", "titleFontSize": 15, "titleFontWeight": "normal", "titleColor": "#151515"
    },
    "title": {"font": "DejaVu Sans", "fontSize": 19, "fontWeight": "normal", "color": "#151515", "anchor": "middle", "baseline": "alphabetic", "offset": 7},
    "legend": {
      "orient": "bottom-left", "offset": 8, "padding": 4,
      "fillColor": "rgba(255,255,255,0.85)", "strokeColor": "#cccccc", "cornerRadius": 3,
      "labelFont": "DejaVu Sans", "labelFontSize": 15, "labelColor": "#151515", "labelOffset": 12, "labelLimit": 0,
      "symbolType": "stroke", "symbolSize": 1225, "symbolStrokeWidth": 2, "rowPadding": -4
    }
  }
}
